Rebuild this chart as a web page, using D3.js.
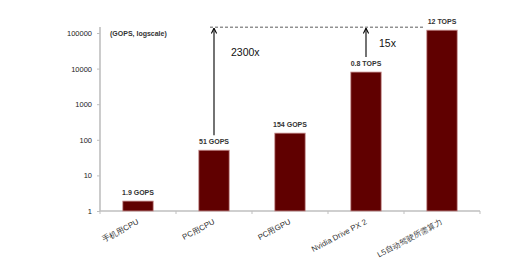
<!DOCTYPE html>
<meta charset="utf-8">
<style>
body { margin: 0; background: #fff; }
svg text { font-family: "Liberation Sans", Arial, sans-serif; }
.axis path, .axis line { stroke: #bfbfbf; }
.axis text { fill: #222; font-size: 7.5px; }
.bar { fill: #600000; stroke: #c89090; stroke-width: 0.8; }
.vlab { font-size: 7px; font-weight: bold; fill: #333; text-anchor: middle; }
</style>
<body>
<svg width="526" height="261"></svg>
<script src="https://d3js.org/d3.v7.min.js"></script>
<script>
var categories = ["手机用CPU", "PC用CPU", "PC用GPU", "Nvidia Drive PX 2", "L5自动驾驶所需算力"];
var values = [1.9, 51, 154, 8000, 120000];   // GOPS, as drawn
var valueLabels = ["1.9 GOPS", "51 GOPS", "154 GOPS", "0.8 TOPS", "12 TOPS"];
var yTicks = [1, 10, 100, 1000, 10000, 100000];

var svg = d3.select("svg");

var x = d3.scaleBand().domain(categories).range([100, 480]).paddingInner(0.6).paddingOuter(0.3);
var xb = d3.scaleBand().domain(categories).range([100, 480]);
var y = d3.scaleLog().domain([1, 100000]).range([211, 33]);

// y axis
var ya = svg.append("g").attr("class", "axis")
    .attr("transform", "translate(100,0)")
    .call(d3.axisLeft(y).tickValues(yTicks).tickFormat(d3.format("d")).tickSize(3).tickSizeOuter(0));
ya.select(".domain").attr("d", "M0,211V27").style("stroke-width", 1.6);
ya.selectAll("text").attr("x", -8);

// x axis
var xa = svg.append("g").attr("class", "axis")
    .attr("transform", "translate(0,211)");
xa.append("line").attr("x1", 100).attr("x2", 480).style("stroke-width", 1.6);
xa.selectAll(".tk").data(categories.concat([null])).enter().append("line")
    .attr("x1", function(d, i) { return i < categories.length ? xb(d) : 480; })
    .attr("x2", function(d, i) { return i < categories.length ? xb(d) : 480; })
    .attr("y1", 0).attr("y2", 3);
xa.selectAll(".cl").data(categories).enter().append("text")
    .attr("transform", function(d) { return "translate(" + (xb(d) + xb.bandwidth() / 2) + ",10) rotate(-28)"; })
    .attr("text-anchor", "end")
    .attr("dy", "0.35em")
    .style("font-size", "7.8px")
    .style("fill", "#333")
    .text(function(d) { return d; });

// bars
svg.selectAll(".bar").data(values).enter().append("rect")
    .attr("class", "bar")
    .attr("x", function(d, i) { return x(categories[i]); })
    .attr("width", x.bandwidth())
    .attr("y", function(d) { return y(d); })
    .attr("height", function(d) { return 211 - y(d); });

svg.selectAll(".vlab").data(values).enter().append("text")
    .attr("class", "vlab")
    .attr("x", function(d, i) { return x(categories[i]) + x.bandwidth() / 2; })
    .attr("y", function(d) { return y(d) - 6; })
    .text(function(d, i) { return valueLabels[i]; });

svg.append("text").attr("x", 110).attr("y", 36)
    .style("font-size", "7px").style("font-weight", "bold").style("fill", "#333")
    .text("(GOPS, logscale)");

// comparison annotations
var topY = y(values[4]) - 3;
svg.append("line")
    .attr("x1", 210).attr("x2", 424).attr("y1", topY).attr("y2", topY)
    .style("stroke", "#333").style("stroke-width", 0.8).style("stroke-dasharray", "3,2");

svg.append("defs").append("marker")
    .attr("id", "ah").attr("viewBox", "0 0 10 10").attr("refX", 9).attr("refY", 5)
    .attr("markerWidth", 6).attr("markerHeight", 6).attr("orient", "auto")
  .append("path").attr("d", "M1,1L9,5L1,9").style("fill", "none").style("stroke", "#000").style("stroke-width", 1.6);

var ax1 = x(categories[1]) + x.bandwidth() / 2;
var ax2 = x(categories[3]) + x.bandwidth() / 2;
svg.append("line").attr("x1", ax1).attr("x2", ax1)
    .attr("y1", y(values[1]) - 15).attr("y2", topY + 1)
    .style("stroke", "#000").style("stroke-width", 1.1).attr("marker-end", "url(#ah)");
svg.append("line").attr("x1", ax2).attr("x2", ax2)
    .attr("y1", y(values[3]) - 15).attr("y2", topY + 1)
    .style("stroke", "#000").style("stroke-width", 1.1).attr("marker-end", "url(#ah)");

svg.append("text").attr("x", ax1 + 17).attr("y", 56)
    .style("font-size", "10.5px").style("fill", "#111").text("2300x");
svg.append("text").attr("x", ax2 + 13).attr("y", 47)
    .style("font-size", "10.5px").style("fill", "#111").text("15x");
</script>
</body>
